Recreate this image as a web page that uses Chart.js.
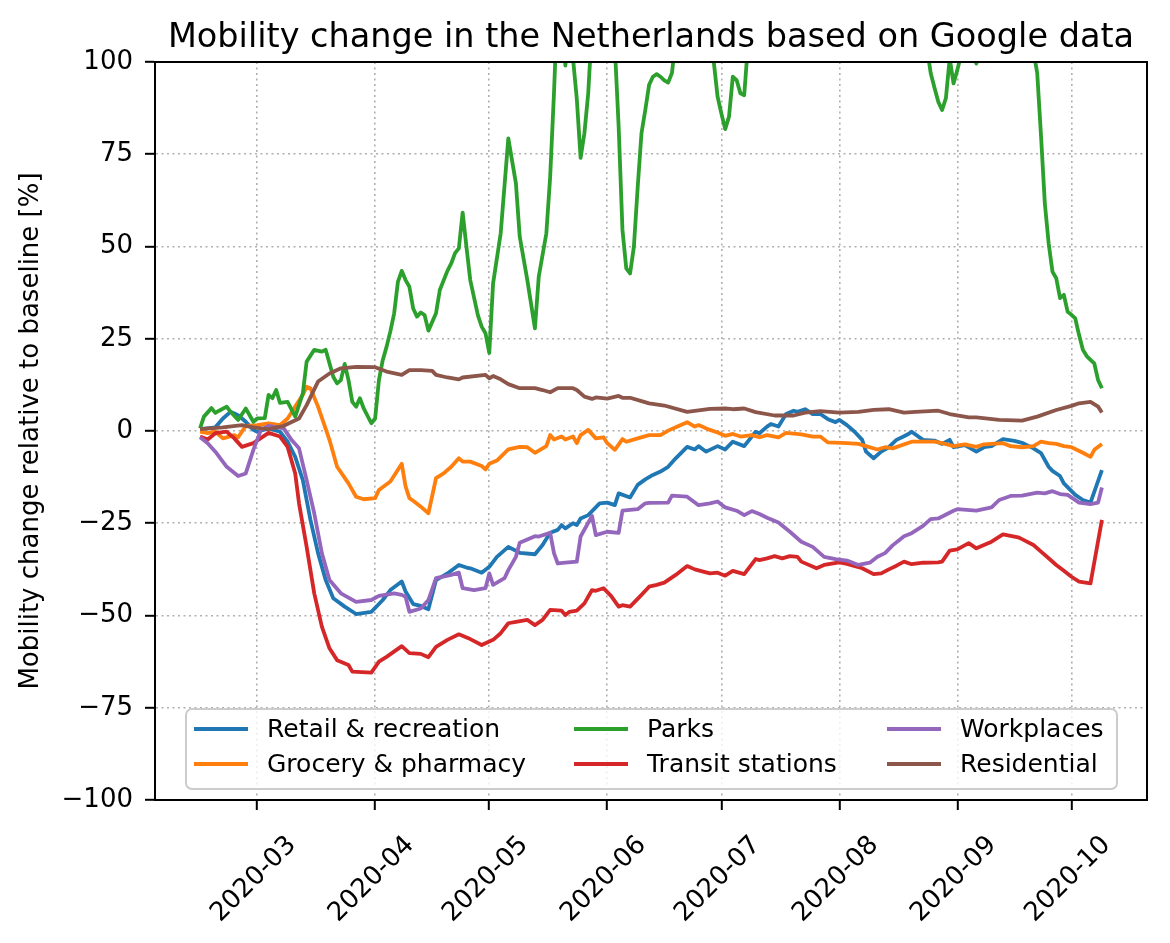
<!DOCTYPE html>
<html><head><meta charset="utf-8">
<script src="https://cdn.jsdelivr.net/npm/chart.js@4.4.1/dist/chart.umd.min.js"></script>
<style>html,body{margin:0;padding:0;background:#fff;}#wrap{width:1170px;height:943px;}</style>
</head><body><div id="wrap"><canvas id="c" width="1170" height="943" style="width:1170px;height:943px"></canvas></div>
<script>
// x values are days since 2020-03-01
const chartTitle = 'Mobility change in the Netherlands based on Google data';
const yAxisTitle = 'Mobility change relative to baseline [%]';
const seriesNames = ['Retail & recreation','Grocery & pharmacy','Parks','Transit stations','Workplaces','Residential'];
const seriesColors = ['#1f77b4','#ff7f0e','#2ca02c','#d62728','#9467bd','#8c564b'];
const monthTickDays = [0,31,61,92,122,153,184,214];
const monthTickLabels = ['2020-03','2020-04','2020-05','2020-06','2020-07','2020-08','2020-09','2020-10'];

const retailDays = [-15,-11,-9,-7,-5,-4,-3,-1,0,3,6,8,10,12,14,16,18,20,23,26,30,33,35,38,39,41,43,45,47,50,53,55,56,59,61,63,66,69,73,75,77,79,80,81,83,84,85,87,90,92,94,95,98,100,102,104,106,108,110,113,115,116,118,121,123,125,128,131,132,134,135,137,139,141,142,144,146,148,150,152,153,155,157,159,160,162,164,166,168,170,171,172,175,178,180,182,183,186,189,191,193,196,199,201,204,206,208,209,211,212,215,217,219,222];
const retailVals = [0.5,1.0,3.4,5.2,4.3,3.4,2.5,0.3,-0.2,0.7,-0.2,-2.9,-7,-13.3,-24.1,-33.1,-40.4,-45.3,-47.6,-49.6,-49,-45.8,-43.1,-40.8,-43.5,-46.9,-47.4,-48.3,-40.4,-38.6,-36.3,-37,-37.2,-38.4,-36.8,-34.1,-31.4,-33,-33.4,-30.9,-27.6,-26.8,-25.5,-26.4,-25,-25.5,-23.7,-22.8,-19.6,-19.4,-20.1,-16.9,-18,-14.6,-13.1,-11.9,-11,-9.7,-7.4,-4.3,-5,-4.1,-5.6,-4.1,-5,-2.9,-4.1,-0.2,-0.6,1.2,1.9,1.2,4.6,5.5,5.2,5.9,4.6,4.6,3.2,2.4,3,1.6,-0.2,-2.4,-5.6,-7.4,-5.6,-4.4,-2.4,-1.4,-0.9,-0.2,-2.4,-2.6,-3.5,-2.4,-4.4,-3.8,-5.6,-4.4,-4.1,-2.2,-2.7,-3.2,-4.7,-6,-9.7,-10.8,-12.2,-14.2,-17.3,-18.7,-19.4,-10.6];

const groceryDays = [-15,-13,-11,-9,-6,-5,-3,0,3,6,8,10,12,13,14,16,19,21,24,26,28,31,32,35,38,39,40,41,43,45,47,49,51,53,54,56,59,60,61,63,65,66,69,71,73,76,77,78,80,81,83,84,85,87,89,91,92,94,96,97,100,103,106,108,110,113,115,116,119,121,123,125,127,130,132,134,137,139,143,146,148,150,155,158,160,163,165,167,172,178,180,183,186,189,191,196,198,201,204,206,208,210,212,214,217,219,220,222];
const groceryVals = [-0.2,-0.6,-0.2,-2,-1.1,-1.7,1.4,1.6,2.1,1.6,3.4,6.6,9.8,12,11.6,6.6,-2.4,-9.7,-14.2,-17.8,-18.5,-18.2,-16,-13.7,-8.9,-15,-18.2,-18.9,-20.5,-22.3,-12.8,-11.5,-9.7,-7.4,-8.3,-8.3,-9.5,-10.4,-8.9,-8,-6,-5,-4.3,-4.4,-5.9,-4.1,-1.1,-2.3,-1.5,-2.3,-1.5,-3.3,-1.1,0.3,-2,-1.7,-3.3,-5.1,-2.2,-2.9,-2,-1.1,-1.1,0.1,1.0,2.4,1.2,1.6,0.3,-0.4,-1.3,-0.8,-1.5,-1.1,-1.7,-1.1,-1.7,-0.5,-0.9,-1.5,-1.5,-3.1,-3.3,-3.5,-4.1,-5,-4.4,-4.7,-2.9,-2.9,-3.3,-4.1,-3.6,-4.3,-3.6,-3.3,-4.1,-4.4,-4.1,-2.9,-3.3,-3.5,-4.1,-4.4,-5.9,-7,-5.1,-3.5];

const parksDays = [-15,-14,-12,-11,-10,-8,-7,-5,-3,-1,0,2,3,4,5,6,8,10,12,13,15,17,18,20,21,22,23,24,25,26,27,28,30,31,32,33,34,35,36,37,38,39,40,41,42,43,44,45,47,48,50,51,52,53,54,55,56,58,59,60,61,62,64,66,68,69,71,73,74,76,77,78,79,80,81,82,83,84,85,86,87,88,89,90,91,92,93,94,95,96,97,98,99,100,101,102,103,104,105,106,107,108,109,110,111,112,113,114,115,116,117,118,119,120,121,122,123,124,125,126,127,128,129,131,133,135,137,140,142,145,148,151,154,157,160,163,166,169,172,174,176,177,178,179,180,181,182,183,184,185,186,187,188,189,190,192,195,198,201,203,204,205,206,207,208,209,210,211,212,213,214,215,216,217,218,219,220,221,222];
const parksVals = [0.7,3.9,6.2,4.9,5.5,6.6,5.2,3.0,6.1,2.5,3.4,3.5,9.8,8.9,11.1,7.6,7.9,3.9,10.2,18.8,22,21.5,22,14.7,12.9,13.8,18.2,13.8,7.9,6.6,8.9,6.1,2.1,3.4,13.8,19.2,22.8,27,31.9,40.5,43.4,40.9,39.1,33.2,31,32.1,31.4,27.2,31.9,38.2,43.4,45.4,48.2,49.5,59.2,49.9,40.9,31.4,28.3,26.5,21.2,40,53.6,79.3,67.1,52.7,40.9,27.8,41.8,53.6,68.9,91.5,118,112,99,112,101,90,74,80.7,91.5,110,125,140,135,128,118,104,82.5,54.5,44.1,42.7,49.9,66,80.7,87,93.8,96,96.7,96,95,94.4,97,106,118,130,136,125,120,130,134,124,112,100,90.6,86,81.8,85.2,96,95.1,91.5,91,105,125,145,130,150,135,155,140,150,132,142,125,138,122,132,118,126,112,104,97,93,89.2,87,90.2,101,94.2,97.8,102,110,106,102,99.6,104,115,128,122,118,110,103,97,80,61.7,50.9,43.2,41.4,36,36.9,32.3,31.5,30.5,26,22,20.3,19.3,18.3,13.8,11.6];

const transitDays = [-15,-13,-11,-8,-6,-4,-1,3,6,8,10,11,13,15,17,19,21,24,25,30,32,34,38,40,43,45,47,50,53,56,59,62,64,66,68,71,73,75,77,80,81,82,84,86,88,89,91,93,95,96,98,101,103,105,107,110,113,115,119,121,123,125,128,131,132,134,136,138,140,142,143,147,149,153,155,159,162,164,166,168,170,172,175,179,180,182,184,187,189,193,196,200,201,204,206,208,210,212,214,216,219,222];
const transitVals = [-1.5,-2.3,-0.6,-0.2,-2,-4.3,-3.3,-0.5,-1.5,-4.3,-11.5,-19.6,-31.4,-44,-53,-58.9,-62.1,-63.4,-65.2,-65.5,-62.5,-61.2,-58.3,-60.2,-60.4,-61.3,-58.5,-56.6,-55.1,-56.4,-58,-56.6,-54.8,-52.1,-51.7,-51.2,-52.6,-51.2,-48.5,-48.7,-49.9,-49,-48.7,-46.7,-43.1,-43.3,-42.6,-44.7,-47.6,-47.2,-47.6,-44.4,-42.2,-41.7,-41.1,-39,-36.6,-37.5,-38.6,-38.4,-39.2,-37.9,-38.8,-34.7,-35,-34.5,-33.9,-34.5,-33.9,-34.1,-35.4,-37.2,-36.3,-35.6,-36,-37.2,-38.8,-38.6,-37.5,-36.5,-35.4,-36.1,-35.7,-35.6,-35.4,-32.4,-32.1,-30.4,-31.8,-30,-28,-28.8,-29.3,-30.9,-32.7,-34.5,-36.3,-37.9,-39.5,-40.8,-41.3,-24.1];

const workDays = [-15,-13,-11,-8,-5,-3,-1,1,3,7,9,11,13,15,17,19,22,26,30,32,36,38,39,40,43,45,47,51,53,54,57,60,61,62,65,66,68,69,73,74,77,78,79,81,84,85,88,89,92,95,96,100,102,103,108,109,113,116,119,121,123,126,128,130,132,134,137,140,143,146,149,152,155,158,161,163,165,167,170,172,175,177,179,183,184,189,193,195,198,201,205,207,209,211,213,216,219,221,222];
const workVals = [-1.7,-3.3,-5.6,-9.7,-12.2,-11.5,-5.1,0.3,1.4,0.7,-2.4,-4.7,-13.3,-22.3,-33.1,-40.4,-44,-46.3,-45.8,-44.7,-44,-44.4,-44.9,-49,-48.1,-45.8,-39.9,-39,-38.4,-42.6,-43.1,-42.6,-38.6,-41.7,-39.9,-37.7,-34.1,-30.3,-28.5,-28.6,-27.6,-33.1,-35.9,-35.7,-35.4,-28.6,-23,-28.2,-27.3,-27.6,-21.6,-21.2,-19.6,-19.5,-19.4,-17.5,-17.8,-20.1,-19.6,-19.1,-20.7,-21.6,-22.8,-21.7,-22.5,-23.5,-24.8,-27.3,-30,-31.4,-34.1,-34.7,-35.1,-36.3,-35.7,-34.1,-33.1,-31,-28.5,-27.7,-25.7,-23.9,-23.7,-21.6,-21.2,-21.6,-20.7,-18.7,-17.6,-17.5,-16.7,-16.9,-16.3,-17.1,-17.3,-19.4,-19.8,-19.4,-15.3];

const residentialDays = [-15,-9,-4,-1,3,7,11,13,16,19,22,26,31,34,38,40,43,46,47,50,53,54,60,61,62,64,66,69,73,75,77,79,83,84,86,88,89,92,95,96,98,101,103,107,113,119,123,125,128,131,136,141,144,148,153,158,162,166,170,173,179,182,187,189,195,201,205,210,214,216,219,221,222];
const residentialVals = [0.5,1.0,1.6,1.0,0.5,1.4,3.4,7.0,13.4,15.6,17,17.4,17.3,16.1,15.2,16.5,16.5,16.3,15.2,14.5,14,14.5,15.2,14.3,14.9,14,12.7,11.6,11.6,11.1,10.5,11.6,11.6,11.1,9.3,8.7,9.1,8.8,9.5,9.0,9.0,8.1,7.5,6.9,5.2,6.0,6.1,5.9,6.1,5.1,4.2,4.2,5,5.4,5,5.2,5.7,5.9,5,5.2,5.5,4.6,3.7,3.7,3,2.8,3.9,5.7,6.8,7.5,7.9,6.6,5];

const seriesDays = [retailDays, groceryDays, parksDays, transitDays, workDays, residentialDays];
const seriesVals = [retailVals, groceryVals, parksVals, transitVals, workVals, residentialVals];

const FONT = 'DejaVu Sans';
Chart.defaults.font.family = FONT;
Chart.defaults.color = '#000';

const datasets = seriesNames.map((name, i) => ({
  label: name,
  data: seriesDays[i].map((d, k) => ({x: d, y: seriesVals[i][k]})),
  borderColor: seriesColors[i],
  backgroundColor: seriesColors[i],
  borderWidth: 3.8,
  pointRadius: 0,
  tension: 0,
  fill: false,
  clip: 0,
  borderJoinStyle: 'round',
  order: seriesNames.length - i
}));

const decor = {
  id: 'decor',
  afterDatasetsDraw(chart) {
    const ctx = chart.ctx, a = chart.chartArea;
    ctx.save();
    // legend (matplotlib style, 3 columns, column-major order)
    const bx = a.left + 31, by = a.bottom - 91, bw = 931, bh = 80;
    ctx.beginPath();
    if (ctx.roundRect) ctx.roundRect(bx, by, bw, bh, 6); else ctx.rect(bx, by, bw, bh);
    ctx.fillStyle = 'rgba(255,255,255,0.8)';
    ctx.fill();
    ctx.lineWidth = 2;
    ctx.strokeStyle = '#cccccc';
    ctx.stroke();
    const colX = [a.left + 39, a.left + 419, a.left + 732];
    const rowY = [a.bottom - 71, a.bottom - 36];
    ctx.font = '25px "' + FONT + '"';
    ctx.textBaseline = 'middle';
    ctx.textAlign = 'left';
    seriesNames.forEach((name, i) => {
      const c = Math.floor(i / 2), r = i % 2;
      const x = colX[c], y = rowY[r];
      ctx.beginPath();
      ctx.moveTo(x, y); ctx.lineTo(x + 54, y);
      ctx.strokeStyle = seriesColors[i];
      ctx.lineWidth = 3.8;
      ctx.lineCap = 'butt';
      ctx.stroke();
      ctx.fillStyle = '#000';
      ctx.fillText(name, x + 73, y + 1);
    });
    // frame (all four spines)
    ctx.strokeStyle = '#000';
    ctx.lineWidth = 2;
    ctx.strokeRect(a.left, a.top, a.right - a.left, a.bottom - a.top);
    // title
    ctx.fillStyle = '#000';
    ctx.font = '33.5px "' + FONT + '"';
    ctx.textAlign = 'center';
    ctx.textBaseline = 'alphabetic';
    ctx.fillText(chartTitle, (a.left + a.right) / 2, a.top - 15);
    ctx.restore();
  }
};

new Chart(document.getElementById('c'), {
  type: 'line',
  data: { datasets },
  plugins: [decor],
  options: {
    responsive: false,
    animation: false,
    layout: { padding: { top: 62, right: 23, left: 0, bottom: 0 } },
    plugins: { legend: { display: false }, tooltip: { enabled: false }, title: { display: false } },
    scales: {
      x: {
        type: 'linear',
        min: -26.85,
        max: 233.85,
        afterFit: (s) => { s.height = 143; },
        afterBuildTicks: (s) => { s.ticks = monthTickDays.map(v => ({ value: v })); },
        ticks: {
          autoSkip: false,
          maxRotation: 45,
          minRotation: 45,
          labelOffset: 35,
          padding: 20,
          font: { size: 26 },
          color: '#000',
          callback: (v) => { const k = monthTickDays.indexOf(v); return k >= 0 ? monthTickLabels[k] : ''; }
        },
        grid: { color: '#b0b0b0', lineWidth: 1.6, tickColor: '#000', tickWidth: 2, tickLength: 10, drawTicks: true },
        border: { display: true, color: '#000', width: 2, dash: [2, 3.5] }
      },
      y: {
        min: -100,
        max: 100,
        afterFit: (s) => { s.width = 155; },
        ticks: {
          stepSize: 25,
          padding: 12,
          font: { size: 26 },
          color: '#000',
          callback: (v) => String(v).replace('-', '\u2212')
        },
        title: { display: true, text: yAxisTitle, font: { size: 26 }, color: '#000', padding: { top: 16, bottom: 0 } },
        grid: { color: '#b0b0b0', lineWidth: 1.6, tickColor: '#000', tickWidth: 2, tickLength: 10, drawTicks: true },
        border: { display: true, color: '#000', width: 2, dash: [2, 3.5] }
      }
    }
  }
});
</script>
</body></html>
